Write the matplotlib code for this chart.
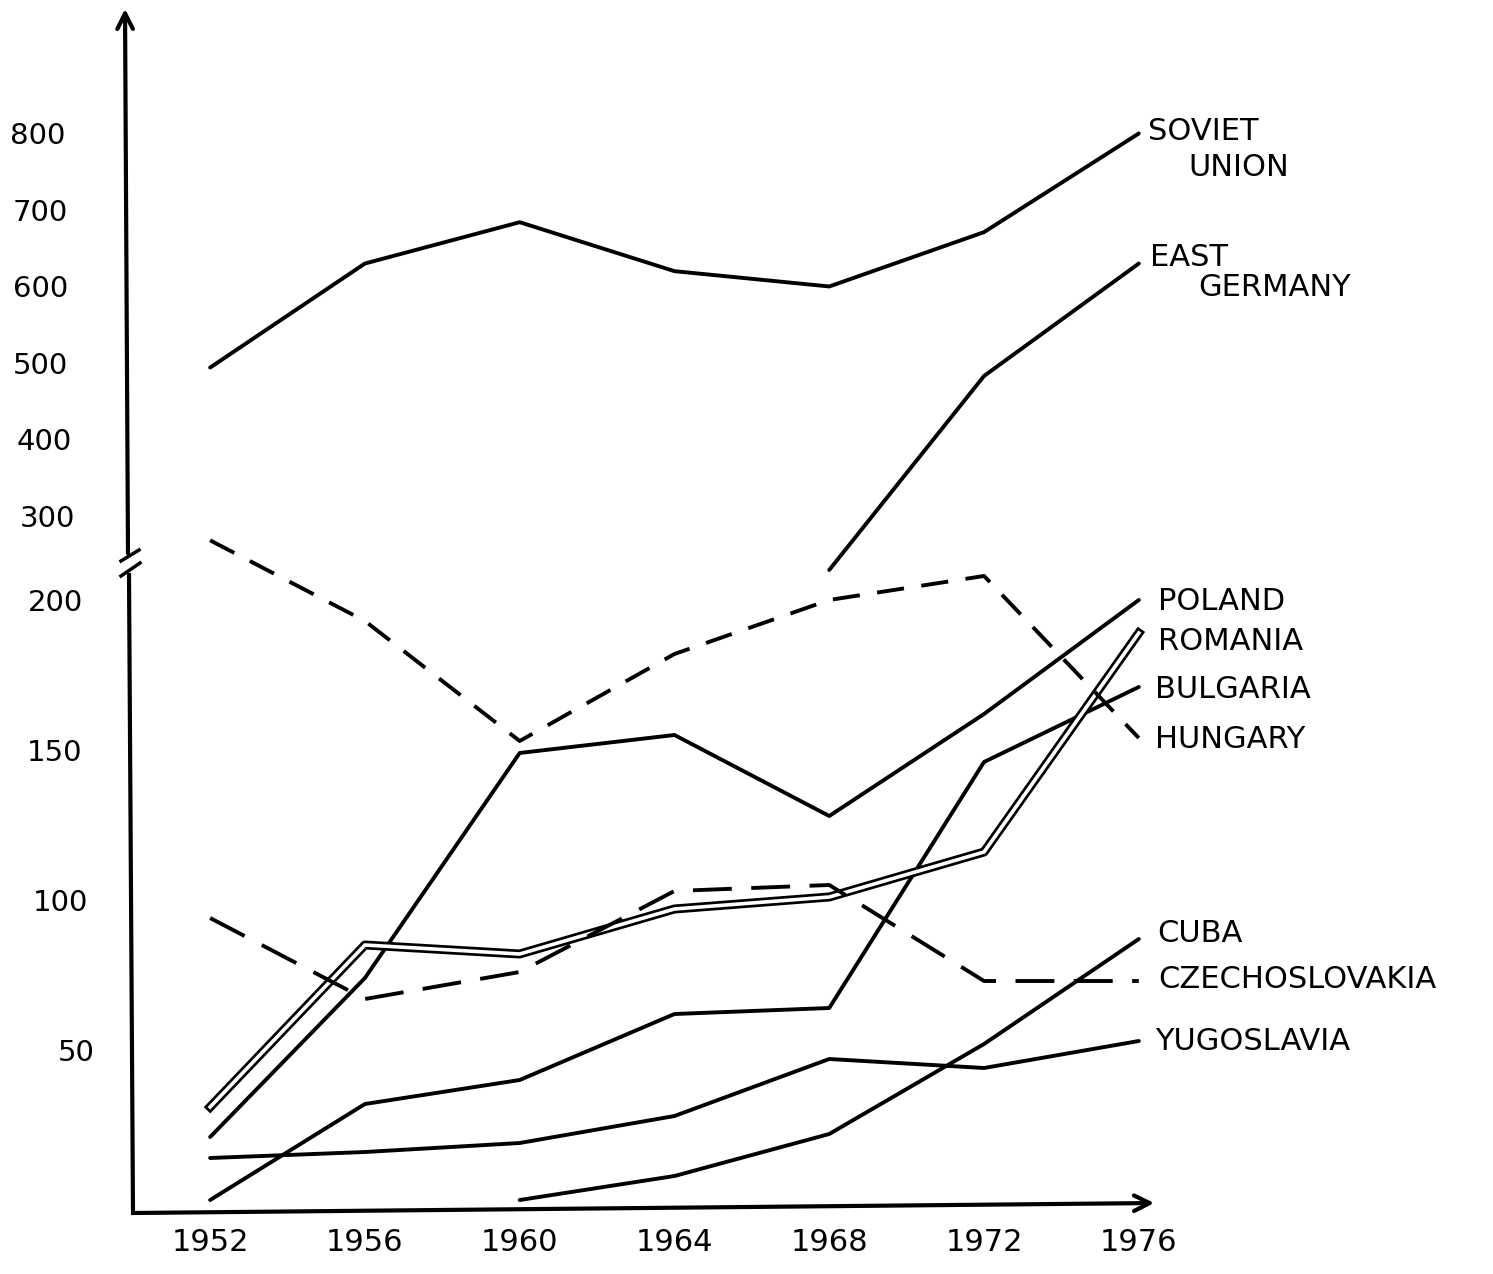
import matplotlib
matplotlib.use('Agg')
import matplotlib.pyplot as plt
import matplotlib.transforms as mtransforms
import numpy as np

# values
years = [1952, 1956, 1960, 1964, 1968, 1972, 1976]
soviet_union = [494, 630, 684, 620, 600, 671, 800]
east_germany = [np.nan, np.nan, np.nan, np.nan, 210, 483, 630]
poland = [21, 74, 149, 155, 128, 162, 200]
romania = [31, 85, 82, 97, 101, 116, 189]
bulgaria = [0, 32, 40, 62, 64, 146, 171]
hungary = [267, 193, 153, 182, 200, 208, 154]
cuba = [np.nan, np.nan, 0, 8, 22, 52, 87]
czechoslovakia = [94, 67, 76, 103, 105, 73, 73]
yugoslavia = [14, 16, 19, 28, 47, 44, 53]

y_ticks = [50, 100, 150, 200, 300, 400, 500, 600, 700, 800]
# hand lettering drifts right towards the bottom (px)
y_label_shift = [20, 13, 7, 8, 0, -3, -7, -7, -7, -10]

W, H = 1493, 1274


# broken y axis: linear up to ~210, compressed above
def fwd(v):
    v = np.asarray(v, dtype=float)
    return np.where(v <= 212, v,
           np.where(v <= 237, 212 + (v - 212) * 0.02,
           np.where(v <= 300, 212.5 + (v - 237) * 0.246,
                    228 + (v - 300) * 0.255)))


def inv(u):
    u = np.asarray(u, dtype=float)
    return np.where(u <= 212, u,
           np.where(u <= 212.5, 212 + (u - 212) / 0.02,
           np.where(u <= 228, 237 + (u - 212.5) / 0.246,
                    300 + (u - 228) / 0.255)))


fig = plt.figure(figsize=(W / 100, H / 100), dpi=100)
ax = fig.add_axes([125 / W, (H - 1213) / H, (1157 - 125) / W, (1213 - 8) / H])
ax.set_yscale('function', functions=(fwd, inv))
ax.set_xlim(1949.8, 1976.47)
ax.set_ylim(-4.33, 964)
for s in ax.spines.values():
    s.set_visible(False)


def to_ax(px, py):
    return (px - 125) / 1032, (1213 - py) / 1205


lw = 2.8
ax.plot(years, soviet_union, color='black', lw=lw, solid_capstyle='round')
ax.plot(years, east_germany, color='black', lw=lw, solid_capstyle='round')
ax.plot(years, poland, color='black', lw=lw, solid_capstyle='round')
ax.plot(years, bulgaria, color='black', lw=lw, solid_capstyle='round')
ax.plot(years, cuba, color='black', lw=lw, solid_capstyle='round')
ax.plot(years, yugoslavia, color='black', lw=lw, solid_capstyle='round')
# Romania is drawn as a double line
ax.plot(years, romania, color='black', lw=6.5)
ax.plot(years, romania, color='white', lw=2.6)
ax.plot(years, hungary, color='black', lw=lw, dashes=(7, 4.5))
ax.plot(years, czechoslovakia, color='black', lw=lw, dashes=(10, 5))

# axes drawn by hand, with a break mark on the y axis
x0, y0 = to_ax(133, 1213)
x1, y1 = to_ax(129, 575)
ax.plot([x0, x1], [y0, y1], color='black', lw=3, transform=ax.transAxes, clip_on=False)
x2, y2 = to_ax(128, 556)
ax.annotate('', xy=to_ax(125, 6), xytext=(x2, y2), xycoords='axes fraction',
            arrowprops=dict(arrowstyle='->', lw=3, mutation_scale=28, color='black'))
for (a, b) in [((121, 561), (139, 550)), ((121, 576), (140, 563))]:
    pa, pb = to_ax(*a), to_ax(*b)
    ax.plot([pa[0], pb[0]], [pa[1], pb[1]], color='black', lw=2.5,
            transform=ax.transAxes, clip_on=False)
ax.annotate('', xy=to_ax(1157, 1203), xytext=(x0, y0), xycoords='axes fraction',
            arrowprops=dict(arrowstyle='->', lw=3, mutation_scale=28, color='black'))

ax.set_xticks(years)
ax.set_xticklabels([str(y) for y in years])
ax.set_yticks(y_ticks)
ax.set_yticklabels([str(t) for t in y_ticks])
ax.yaxis.set_minor_locator(matplotlib.ticker.NullLocator())
ax.tick_params(axis='x', length=0, pad=11, labelsize=22)
ax.tick_params(axis='y', length=0, pad=36, labelsize=21)
for lab, dx in zip(ax.get_yticklabels(), y_label_shift):
    lab.set_transform(lab.get_transform() +
                      mtransforms.ScaledTranslation(dx / 100, 0, fig.dpi_scale_trans))

# country names at the right ends of the lines
labels = [
    ('SOVIET', 1148, 132), ('UNION', 1188, 167),
    ('EAST', 1150, 258), ('GERMANY', 1198, 287),
    ('POLAND', 1158, 601), ('ROMANIA', 1158, 641),
    ('BULGARIA', 1155, 689), ('HUNGARY', 1155, 739),
    ('CUBA', 1157, 933), ('CZECHOSLOVAKIA', 1158, 980),
    ('YUGOSLAVIA', 1155, 1041),
]
for name, px, py in labels:
    fig.text(px / W, 1 - py / H, name, fontsize=22, ha='left', va='center')

fig.savefig('out.png', dpi=100)
